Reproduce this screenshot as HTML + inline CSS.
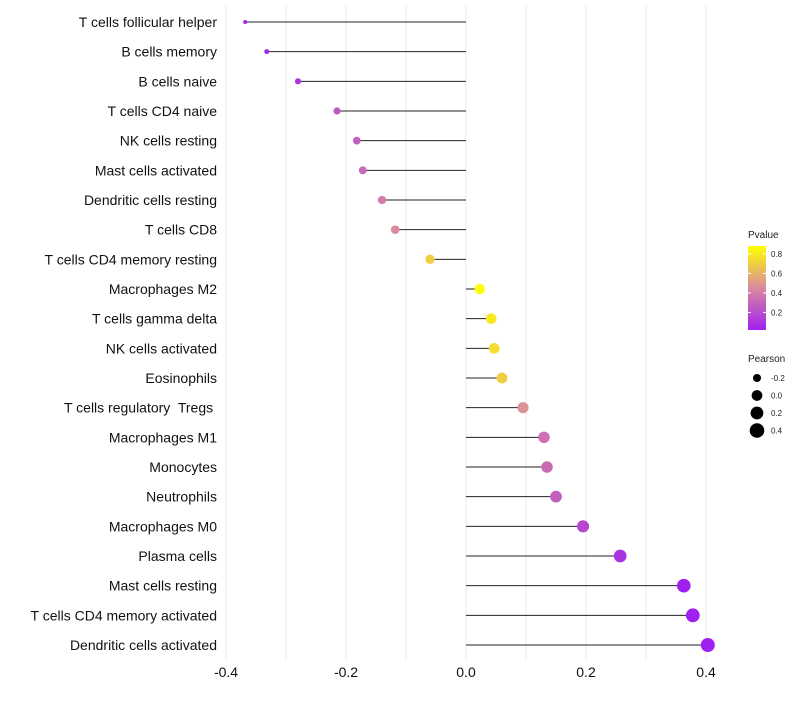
<!DOCTYPE html>
<html><head><meta charset="utf-8"><style>
body{margin:0;background:#fff;}
svg text{font-family:"Liberation Sans",sans-serif;white-space:pre;}
</style></head><body>
<svg id="chart" width="800" height="700" xmlns="http://www.w3.org/2000/svg">
<defs><linearGradient id="pg" x1="0" y1="1" x2="0" y2="0">
<stop offset="0" stop-color="#a020f0"/><stop offset="0.5" stop-color="#d98a9e"/><stop offset="1" stop-color="#ffff00"/>
</linearGradient></defs>
<g id="grid"></g>
<g id="marks"></g>
<g id="ylabels"></g>
<g id="xlabels"></g>
<g>
<text x="748" y="238" font-size="10" fill="#222">Pvalue</text>
<rect x="748" y="246" width="18" height="84" fill="url(#pg)"/>
<g id="cbticks"></g>
</g>
<g id="sizeleg">
<text x="748" y="362" font-size="10" fill="#222">Pearson</text>
</g>
</svg>
<script>
const categories=["T cells follicular helper","B cells memory","B cells naive","T cells CD4 naive","NK cells resting","Mast cells activated","Dendritic cells resting","T cells CD8","T cells CD4 memory resting","Macrophages M2","T cells gamma delta","NK cells activated","Eosinophils","T cells regulatory  Tregs ","Macrophages M1","Monocytes","Neutrophils","Macrophages M0","Plasma cells","Mast cells resting","T cells CD4 memory activated","Dendritic cells activated"];
const pearson=[-0.368,-0.332,-0.28,-0.215,-0.182,-0.172,-0.14,-0.118,-0.06,0.023,0.042,0.047,0.06,0.095,0.13,0.135,0.15,0.195,0.257,0.363,0.378,0.403];
const pvalue=[0.05,0.05,0.1,0.25,0.28,0.32,0.4,0.45,0.7,0.88,0.8,0.75,0.7,0.48,0.35,0.33,0.28,0.18,0.1,0.02,0.02,0.01];
const xTicks=[-0.4,-0.2,0.0,0.2,0.4];
const cbTicks=[0.2,0.4,0.6,0.8];
const sizeTicks=[-0.2,0.0,0.2,0.4];
const NS="http://www.w3.org/2000/svg";
const xs=v=>466+v*600;
const ys=i=>22+i*(623/21);
const rs=v=>Math.sqrt(4+Math.max(0,(v+0.37))/0.77*45);
const cy=p=>330-(p-0.02)/0.86*84;
function lerp(a,b,t){return a.map((x,i)=>Math.round(x+(b[i]-x)*t));}
function col(p){const t=Math.max(0,Math.min(1,(p-0.02)/0.86));
const A=[160,32,240],M=[217,138,158],B=[255,255,0];
const c=t<0.5?lerp(A,M,t/0.5):lerp(M,B,(t-0.5)/0.5);return `rgb(${c})`;}
function mk(tag,at,parent){const e=document.createElementNS(NS,tag);for(const k in at)e.setAttribute(k,at[k]);parent.appendChild(e);return e;}
const grid=document.getElementById('grid');
for(let v=-0.4;v<=0.41;v+=0.1){const l=mk('line',{x1:xs(v),x2:xs(v),y1:5,y2:660,stroke:'#ebebeb','stroke-width':1},grid);

}
const marks=document.getElementById('marks'),yl=document.getElementById('ylabels'),xl=document.getElementById('xlabels');
categories.forEach((c,i)=>{
const l=mk('line',{x1:xs(0),x2:xs(pearson[i]),y1:ys(i),y2:ys(i),stroke:'#222','stroke-width':1},marks);


const d=mk('circle',{cx:xs(pearson[i]),cy:ys(i),r:rs(pearson[i]),fill:col(pvalue[i])},marks);


const t=mk('text',{x:217,y:ys(i)+5,'text-anchor':'end','font-size':14,fill:'#111'},yl);t.textContent=c;


});
xTicks.forEach(v=>{const t=mk('text',{x:xs(v),y:677,'text-anchor':'middle','font-size':14,fill:'#111'},xl);t.textContent=v.toFixed(1);

});
const cb=document.getElementById('cbticks');
cbTicks.forEach(p=>{mk('line',{x1:748,x2:751,y1:cy(p),y2:cy(p),stroke:'#fff'},cb);mk('line',{x1:763,x2:766,y1:cy(p),y2:cy(p),stroke:'#fff'},cb);
const t=mk('text',{x:771,y:cy(p)+3,'font-size':8,fill:'#222'},cb);t.textContent=p.toFixed(1);

});
const sl=document.getElementById('sizeleg');
sizeTicks.forEach((v,i)=>{const y=378+i*17.5;
const c=mk('circle',{cx:757,cy:y,r:rs(v)+0.3,fill:'#000'},sl);


const t=mk('text',{x:771,y:y+3,'font-size':8,fill:'#222'},sl);t.textContent=v.toFixed(1);

});
</script>
</body></html>
